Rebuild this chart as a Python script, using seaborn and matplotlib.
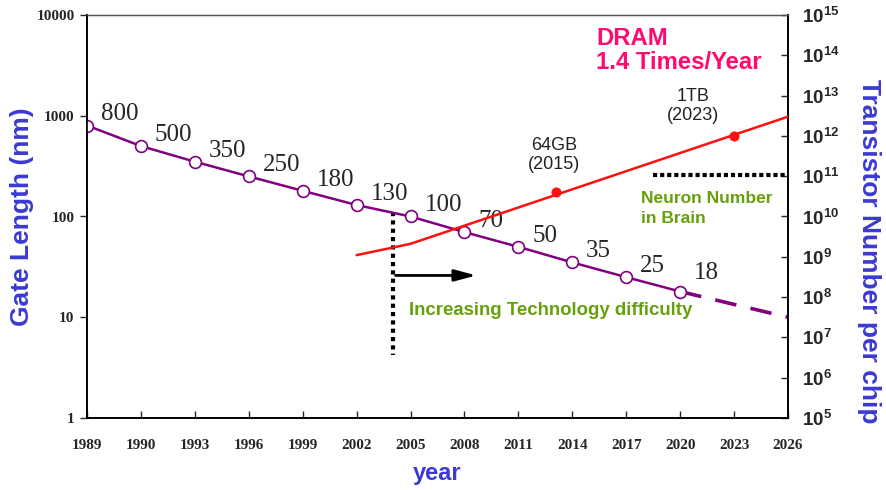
import numpy as np
import pandas as pd
import matplotlib
matplotlib.use("Agg")
import matplotlib.pyplot as plt
import seaborn as sns
from matplotlib.ticker import FixedLocator, FuncFormatter, NullLocator

# ---------------- data ----------------
year_labels = ["1989", "1990", "1993", "1996", "1999", "2002", "2005",
               "2008", "2011", "2014", "2017", "2020", "2023", "2026"]
gate_pos = [0, 1, 2, 3, 4, 5, 6, 7, 8, 9, 10, 11]
gate_length = [800, 500, 350, 250, 180, 130, 100, 70, 50, 35, 25, 18]
proj_pos = [11, 13]
proj_length = [18, 10]

dram_pos = [5, 6, 13]
dram_transistors = [1.1e9, 2.1e9, 3.0e12]
dram_mark_pos = [8.7, 12]
dram_mark_val = [4.0e10, 1.0e12]
dram_mark_text = ["64GB\n(2015)", "1TB\n(2023)"]

neuron_pos = [10.5, 13]
neuron_val = [1.1e11, 1.1e11]

difficulty_pos = [5.67, 5.67]
difficulty_len = [112, 4.2]
arrow_from = (5.67, 26)
arrow_to = (7.27, 26)

left_ticks = [1, 10, 100, 1000, 10000]
right_ticks = [10.0 ** k for k in range(5, 16)]

# ---------------- style ----------------
sns.set_style("ticks")
plt.rcParams["font.family"] = ["Liberation Sans", "DejaVu Sans"]
plt.rcParams["mathtext.fontset"] = "custom"
plt.rcParams["mathtext.bf"] = "Liberation Sans:bold"
plt.rcParams["mathtext.rm"] = "Liberation Sans:bold"

PURPLE = "#800080"
RED = "#FF1010"
BLUE = "#3A3AD2"
PINK = "#FF0A6E"
GREEN = "#66A00A"

fig = plt.figure(figsize=(8.86, 4.90), dpi=100)
ax = fig.add_axes([87 / 886, 1 - 418 / 490, 701 / 886, 403 / 490])
ax2 = ax.twinx()

gate_df = pd.DataFrame({"pos": gate_pos, "len": gate_length})
proj_df = pd.DataFrame({"pos": proj_pos, "len": proj_length})
dram_df = pd.DataFrame({"pos": dram_pos, "n": dram_transistors})
mark_df = pd.DataFrame({"pos": dram_mark_pos, "n": dram_mark_val})
neuron_df = pd.DataFrame({"pos": neuron_pos, "n": neuron_val})

# gate length line
sns.lineplot(data=gate_df, x="pos", y="len", ax=ax, color=PURPLE, lw=1.8,
             marker="o", markersize=8.5, markerfacecolor="white",
             markeredgecolor=PURPLE, markeredgewidth=1.2, zorder=5)
sns.lineplot(data=proj_df, x="pos", y="len", ax=ax, color=PURPLE, lw=2.6,
             zorder=4).lines[-1].set_dashes([6, 4])
for p, v in zip(gate_pos, gate_length):
    off = (10, 13) if v == 18 else (10, 8)
    ax.annotate(str(v), (p, v), xytext=off, textcoords="offset points",
                ha="left", va="center", fontsize=18,
                family=["Liberation Serif"], zorder=6)

# difficulty marker
ax.plot(difficulty_pos, difficulty_len, color="black", lw=3, ls=(0, (1, 1)), zorder=3)
ax.annotate("", xy=arrow_to, xytext=arrow_from,
            arrowprops=dict(arrowstyle="-|>,head_length=1.3,head_width=0.35",
                            color="black", lw=2), zorder=3)
ax.text(0.459, 0.267, "Increasing Technology difficulty", transform=ax.transAxes,
        color=GREEN, fontsize=13.4, fontweight="bold", ha="left", va="center")

# DRAM on right axis
sns.lineplot(data=dram_df, x="pos", y="n", ax=ax2, color=RED, lw=1.8, zorder=4)
sns.scatterplot(data=mark_df, x="pos", y="n", ax=ax2, color=RED, s=45,
                edgecolor=RED, zorder=5)
for (p, v, t), off in zip(zip(dram_mark_pos, dram_mark_val, dram_mark_text),
                          [(-1.5, 27), (-29.5, 21.5)]):
    ax2.annotate(t, (p, v), xytext=off, textcoords="offset points",
                 ha="center", va="center", fontsize=13, color="#222222",
                 linespacing=1.15)
sns.lineplot(data=neuron_df, x="pos", y="n", ax=ax2, color="black", lw=3,
             zorder=4).lines[-1].set_linestyle((0, (1, 0.7)))
ax2.text(0.791, 0.52, "Neuron Number\nin Brain", transform=ax.transAxes,
         color=GREEN, fontsize=12.5, fontweight="bold", ha="left", va="center",
         linespacing=1.35)
ax.text(0.726, 0.912, "DRAM\n1.4 Times/Year", transform=ax.transAxes,
        color=PINK, fontsize=17.2, fontweight="bold", ha="left", va="center",
        linespacing=1.1)

# ---------------- axes ----------------
ax.set_yscale("log")
ax.set_ylim(1, 10000)
ax.set_xlim(0, 13)
ax2.set_yscale("log")
ax2.set_ylim(1e5, 1e15)

ax.xaxis.set_major_locator(FixedLocator(range(len(year_labels))))
ax.set_xticklabels(year_labels)
ax.yaxis.set_major_locator(FixedLocator(left_ticks))
ax.yaxis.set_major_formatter(FuncFormatter(lambda v, p: f"{int(round(v))}"))
ax.yaxis.set_minor_locator(NullLocator())
ax2.yaxis.set_major_locator(FixedLocator(right_ticks))
ax2.yaxis.set_major_formatter(
    FuncFormatter(lambda v, p: r"$\mathbf{10^{%d}}$" % int(round(np.log10(v)))))
ax2.yaxis.set_minor_locator(NullLocator())

ax.tick_params(axis="x", direction="in", length=5, width=1, pad=15)
ax.tick_params(axis="y", direction="out", length=5, width=1, pad=4)
ax2.tick_params(axis="y", direction="in", length=5, width=1, pad=10,
                labelsize=13.5)
for lab in ax.get_xticklabels() + ax.get_yticklabels():
    lab.set_family(["Liberation Serif"])
    lab.set_fontweight("bold")
    lab.set_fontsize(11)

for a in (ax, ax2):
    for s in a.spines.values():
        s.set_linewidth(1.2)
        s.set_color("black")
    a.spines["top"].set_color("#555555")
    a.spines["top"].set_linewidth(0.9)

ax.set_xlabel("year", color=BLUE, fontsize=17, fontweight="bold", va="center")
ax.xaxis.set_label_coords(0.499, -0.138)
ax.set_ylabel("Gate Length (nm)", color=BLUE, fontsize=19, fontweight="bold",
              va="center")
ax.yaxis.set_label_coords(-0.093, 0.5)
ax2.set_ylabel("Transistor Number per chip", color=BLUE, fontsize=19,
               fontweight="bold", rotation=270, va="center")
ax2.yaxis.set_label_coords(1.115, 0.413)

fig.savefig("out.png", dpi=100)
